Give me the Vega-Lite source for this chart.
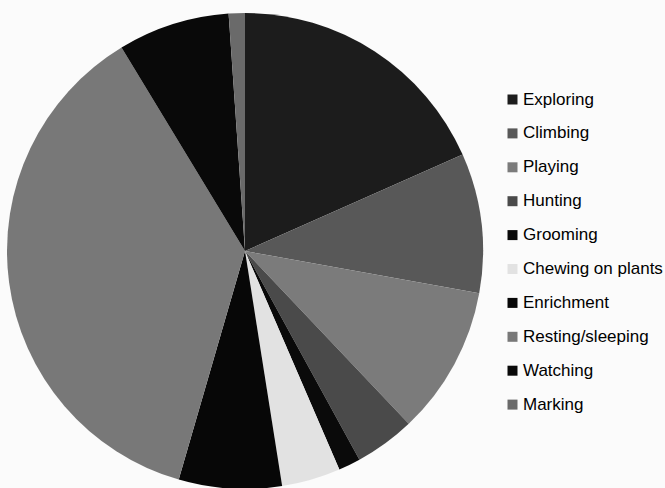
{
  "$schema": "https://vega.github.io/schema/vega-lite/v6.json",
  "width": 490,
  "height": 474,
  "autosize": "none",
  "padding": {"left": 0, "top": 14, "right": 175, "bottom": 0},
  "background": "#fbfbfb",
  "view": {"stroke": null},
  "data": {
    "values": [
      {"i": 1, "activity": "Exploring", "pct": 18.4},
      {"i": 2, "activity": "Climbing", "pct": 9.5},
      {"i": 3, "activity": "Playing", "pct": 10.1},
      {"i": 4, "activity": "Hunting", "pct": 4.1},
      {"i": 5, "activity": "Grooming", "pct": 1.5},
      {"i": 6, "activity": "Chewing on plants", "pct": 4.0},
      {"i": 7, "activity": "Enrichment", "pct": 7.0},
      {"i": 8, "activity": "Resting/sleeping", "pct": 36.9},
      {"i": 9, "activity": "Watching", "pct": 7.6},
      {"i": 10, "activity": "Marking", "pct": 1.1}
    ]
  },
  "mark": {"type": "arc", "radius": 238, "stroke": null},
  "encoding": {
    "theta": {"field": "pct", "type": "quantitative", "stack": true},
    "order": {"field": "i", "type": "quantitative"},
    "color": {
      "field": "activity",
      "type": "nominal",
      "sort": null,
      "scale": {
        "domain": ["Exploring", "Climbing", "Playing", "Hunting", "Grooming", "Chewing on plants", "Enrichment", "Resting/sleeping", "Watching", "Marking"],
        "range": ["#1c1c1c", "#585858", "#7b7b7b", "#4a4a4a", "#0a0a0a", "#e2e2e2", "#070707", "#787878", "#090909", "#6a6a6a"]
      },
      "legend": {
        "title": null,
        "orient": "none",
        "legendX": 504,
        "legendY": 77,
        "symbolType": "square",
        "symbolSize": 100,
        "symbolStrokeWidth": 0,
        "labelFont": "Liberation Sans",
        "labelFontSize": 17,
        "labelColor": "#000000",
        "labelOffset": 2,
        "rowPadding": 15.9,
        "labelLimit": 300
      }
    }
  }
}
